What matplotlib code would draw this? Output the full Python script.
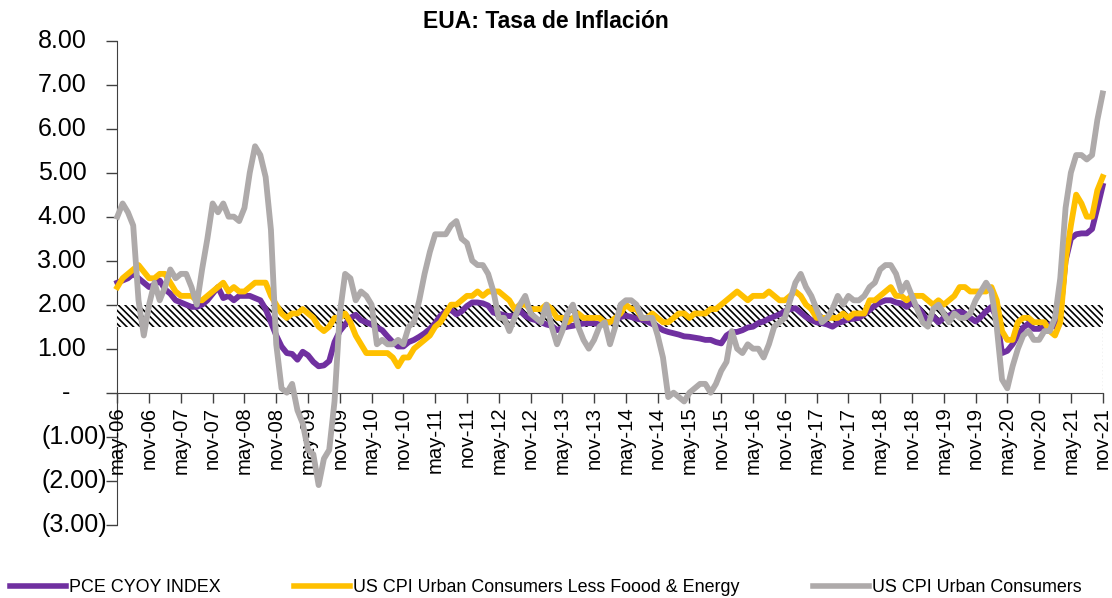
import numpy as np
import matplotlib
matplotlib.use('Agg')
import matplotlib.pyplot as plt
from matplotlib.lines import Line2D

plt.rcParams['font.family'] = ['Liberation Sans', 'DejaVu Sans']
plt.rcParams['hatch.linewidth'] = 1.2

# monthly series, may-06 .. nov-21
pce = [2.5, 2.55, 2.6, 2.7, 2.6, 2.5, 2.4, 2.45,
       2.55, 2.35, 2.25, 2.1, 2.05, 2.0, 1.95, 1.95, 2.0, 2.1, 2.25, 2.4,
       2.15, 2.2, 2.1, 2.2, 2.2, 2.2, 2.15, 2.1, 1.9, 1.6, 1.3, 1.05,
       0.9, 0.88, 0.75, 0.93, 0.85, 0.7, 0.6, 0.62, 0.72, 1.15, 1.4, 1.55,
       1.7, 1.77, 1.65, 1.6, 1.55, 1.48, 1.42, 1.28, 1.15, 1.05, 1.05, 1.15,
       1.2, 1.27, 1.35, 1.45, 1.58, 1.75, 1.85, 1.88, 1.78, 1.85, 1.97, 2.05,
       2.05, 2.03, 1.98, 1.82, 1.8, 1.76, 1.74, 1.75, 1.86, 1.75, 1.68, 1.65,
       1.6, 1.55, 1.52, 1.42, 1.47, 1.5, 1.52, 1.55, 1.57, 1.58, 1.58, 1.55,
       1.6, 1.6, 1.65, 1.72, 1.75, 1.72, 1.68, 1.66, 1.62, 1.56, 1.5, 1.42,
       1.38, 1.35, 1.32, 1.28, 1.27, 1.25, 1.23, 1.2, 1.2, 1.15, 1.12, 1.3,
       1.38, 1.38, 1.42, 1.48, 1.5, 1.58, 1.62, 1.68, 1.73, 1.78, 1.85, 1.9,
       1.92, 1.82, 1.72, 1.65, 1.6, 1.58, 1.55, 1.5, 1.58, 1.62, 1.67, 1.68,
       1.7, 1.78, 1.88, 1.98, 2.05, 2.1, 2.1, 2.05, 2.03, 1.95, 2.05, 1.95,
       1.8, 1.6, 1.73, 1.6, 1.7, 1.75, 1.82, 1.84, 1.8, 1.7, 1.62, 1.72,
       1.85, 1.95, 1.7, 0.9, 0.95, 1.1, 1.3, 1.48, 1.57, 1.45, 1.45, 1.5,
       1.55, 1.5, 1.8, 3.0, 3.5, 3.6, 3.62, 3.62, 3.72, 4.2, 4.7]

cpi_core = [2.4, 2.6, 2.7, 2.8, 2.9, 2.75, 2.6, 2.6,
            2.7, 2.7, 2.5, 2.3, 2.2, 2.2, 2.2, 2.1, 2.1, 2.2, 2.3, 2.4,
            2.5, 2.3, 2.4, 2.3, 2.3, 2.4, 2.5, 2.5, 2.5, 2.2, 2.0, 1.8,
            1.7, 1.8, 1.8, 1.9, 1.8, 1.7, 1.5, 1.4, 1.5, 1.7, 1.7, 1.8,
            1.6, 1.3, 1.1, 0.9, 0.9, 0.9, 0.9, 0.9, 0.8, 0.6, 0.8, 0.8,
            1.0, 1.1, 1.2, 1.3, 1.5, 1.6, 1.8, 2.0, 2.0, 2.1, 2.2, 2.2,
            2.3, 2.2, 2.3, 2.3, 2.3, 2.2, 2.1, 1.9, 2.0, 2.0, 1.9, 1.9,
            1.9, 2.0, 1.9, 1.7, 1.7, 1.6, 1.7, 1.8, 1.7, 1.7, 1.7, 1.7,
            1.6, 1.6, 1.7, 1.8, 2.0, 1.9, 1.9, 1.7, 1.7, 1.8, 1.7, 1.6,
            1.6, 1.7, 1.8, 1.8, 1.7, 1.8, 1.8, 1.8, 1.9, 1.9, 2.0, 2.1,
            2.2, 2.3, 2.2, 2.1, 2.2, 2.2, 2.2, 2.3, 2.2, 2.1, 2.1, 2.2,
            2.3, 2.2, 2.0, 1.9, 1.7, 1.7, 1.7, 1.7, 1.7, 1.8, 1.7, 1.8,
            1.8, 1.8, 2.1, 2.1, 2.2, 2.3, 2.4, 2.2, 2.2, 2.1, 2.2, 2.2,
            2.2, 2.1, 2.0, 2.1, 2.0, 2.1, 2.2, 2.4, 2.4, 2.3, 2.3, 2.3,
            2.3, 2.4, 2.1, 1.4, 1.2, 1.2, 1.6, 1.7, 1.7, 1.6, 1.6, 1.6,
            1.4, 1.3, 1.6, 3.0, 3.8, 4.5, 4.3, 4.0, 4.0, 4.6, 4.9]

cpi = [4.0, 4.3, 4.1, 3.8, 2.1, 1.3, 2.0, 2.5,
       2.1, 2.4, 2.8, 2.6, 2.7, 2.7, 2.4, 2.0, 2.8, 3.5, 4.3, 4.1,
       4.3, 4.0, 4.0, 3.9, 4.2, 5.0, 5.6, 5.4, 4.9, 3.7, 1.1, 0.1,
       0.0, 0.2, -0.4, -0.7, -1.3, -1.4, -2.1, -1.5, -1.3, -0.2, 1.8, 2.7,
       2.6, 2.1, 2.3, 2.2, 2.0, 1.1, 1.2, 1.1, 1.1, 1.2, 1.1, 1.5,
       1.6, 2.1, 2.7, 3.2, 3.6, 3.6, 3.6, 3.8, 3.9, 3.5, 3.4, 3.0,
       2.9, 2.9, 2.7, 2.3, 1.7, 1.7, 1.4, 1.7, 2.0, 2.2, 1.8, 1.7,
       1.6, 2.0, 1.5, 1.1, 1.4, 1.8, 2.0, 1.5, 1.2, 1.0, 1.2, 1.5,
       1.6, 1.1, 1.5, 2.0, 2.1, 2.1, 2.0, 1.7, 1.7, 1.7, 1.3, 0.8,
       -0.1, 0.0, -0.1, -0.2, 0.0, 0.1, 0.2, 0.2, 0.0, 0.2, 0.5, 0.7,
       1.4, 1.0, 0.9, 1.1, 1.0, 1.0, 0.8, 1.1, 1.5, 1.6, 1.7, 2.1,
       2.5, 2.7, 2.4, 2.2, 1.9, 1.6, 1.7, 1.9, 2.2, 2.0, 2.2, 2.1,
       2.1, 2.2, 2.4, 2.5, 2.8, 2.9, 2.9, 2.7, 2.3, 2.5, 2.2, 1.9,
       1.6, 1.5, 1.9, 2.0, 1.8, 1.6, 1.8, 1.7, 1.7, 1.8, 2.1, 2.3,
       2.5, 2.3, 1.5, 0.3, 0.1, 0.6, 1.0, 1.3, 1.4, 1.2, 1.2, 1.4,
       1.4, 1.7, 2.6, 4.2, 5.0, 5.4, 5.4, 5.3, 5.4, 6.2, 6.8]

tick_labels = ['may-06', 'nov-06', 'may-07', 'nov-07', 'may-08', 'nov-08',
               'may-09', 'nov-09', 'may-10', 'nov-10', 'may-11', 'nov-11',
               'may-12', 'nov-12', 'may-13', 'nov-13', 'may-14', 'nov-14',
               'may-15', 'nov-15', 'may-16', 'nov-16', 'may-17', 'nov-17',
               'may-18', 'nov-18', 'may-19', 'nov-19', 'may-20', 'nov-20',
               'may-21', 'nov-21']
y_ticks = [8, 7, 6, 5, 4, 3, 2, 1, 0, -1, -2, -3]
y_labels = ['8.00', '7.00', '6.00', '5.00', '4.00', '3.00', '2.00', '1.00',
            '-', '(1.00)', '(2.00)', '(3.00)']

# target band
band_lo, band_hi = 1.5, 2.0

names = ['PCE CYOY INDEX', 'US CPI Urban Consumers Less Foood & Energy',
         'US CPI Urban Consumers']
colors = ['#7030A0', '#FFC000', '#AEAAAA']

x = np.arange(len(pce))

fig = plt.figure(figsize=(11.12, 5.98), dpi=100)
ax = fig.add_axes([0.1055, 0.1226, 0.8861, 0.8094])

ax.fill_between(x, band_lo, band_hi, facecolor='white', edgecolor='black',
                hatch='\\\\\\\\\\', linewidth=0, zorder=1)
ax.vlines(x[-1], 0, band_lo, colors='#BFBFBF', linestyles=':', linewidth=1,
          zorder=1)

for s, c in zip([pce, cpi_core, cpi], colors):
    ax.plot(x, s, color=c, linewidth=4.2, solid_joinstyle='round',
            clip_on=False, zorder=2)

ax.set_xlim(x[0], x[-1])
ax.set_ylim(-3, 8)
ax.set_axisbelow(True)

for side in ['top', 'right']:
    ax.spines[side].set_visible(False)
ax.spines['bottom'].set_position(('data', 0))
for side in ['left', 'bottom']:
    ax.spines[side].set_zorder(0.5)
    ax.spines[side].set_color('#404040')

ax.set_xticks(x[::6])
ax.set_xticklabels(tick_labels, rotation=90, fontsize=14.6)
ax.tick_params(axis='x', length=7, width=1, pad=3, color='#404040')

ax.set_yticks(y_ticks)
ax.set_yticklabels([])
ax.tick_params(axis='y', length=8, width=1, color='#404040')
for v, lab in zip(y_ticks, y_labels):
    if v > 0:
        off = -31
    elif v == 0:
        off = -47
    else:
        off = -10
    ax.annotate(lab, xy=(0, v), xycoords=ax.get_yaxis_transform(),
                xytext=(off, 0), textcoords='offset pixels',
                ha='right', va='center', fontsize=18)

fig.text(546 / 1112, 1 - 22 / 598, 'EUA: Tasa de Inflación',
         ha='center', va='center', fontsize=16.5, fontweight='bold')

handles = [Line2D([], [], color=c, linewidth=4) for c in colors]
fig.legend(handles, names, loc='center left',
           bbox_to_anchor=(10 / 1112, 1 - 588 / 598), ncol=3, frameon=False,
           fontsize=12.9, handlelength=3.1, handletextpad=0.2,
           columnspacing=4.1, borderpad=0, borderaxespad=0)

fig.savefig('out.png', dpi=100)
